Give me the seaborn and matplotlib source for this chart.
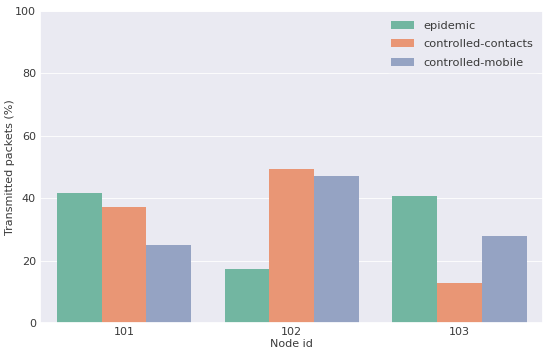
import matplotlib
matplotlib.use("Agg")
import matplotlib.pyplot as plt
import seaborn as sns
import pandas as pd

nodes = ["101", "102", "103"]
epidemic = [41.8, 17.4, 40.7]
controlled_contacts = [37.1, 49.4, 13.0]
controlled_mobile = [24.9, 47.0, 27.9]
series_names = ["epidemic", "controlled-contacts", "controlled-mobile"]

rows = []
for name, vals in zip(series_names, [epidemic, controlled_contacts, controlled_mobile]):
    for n, v in zip(nodes, vals):
        rows.append({"Node id": n, "value": v, "method": name})
df = pd.DataFrame(rows)

sns.set_theme(style="darkgrid", rc={"grid.linewidth": 0.6})
plt.rcParams["font.family"] = ["DejaVu Sans"]
txt = "#3a3a3a"
fig, ax = plt.subplots(figsize=(5.5, 3.54), dpi=100)
sns.barplot(data=df, x="Node id", y="value", hue="method", palette="Set2",
            linewidth=0, ax=ax)
ax.set_ylim(0, 100)
ax.set_ylabel("Transmitted packets (%)", fontsize=8, color=txt, labelpad=0)
ax.set_xlabel("Node id", fontsize=8, color=txt, labelpad=1)
ax.tick_params(labelsize=8, pad=3, colors=txt, length=0)
leg = ax.legend(loc="upper right", fontsize=8.2, frameon=True, borderaxespad=0.5,
                handlelength=2.0, labelspacing=0.72)
leg.set_title(None)
for t in leg.get_texts():
    t.set_color(txt)
leg.get_frame().set_facecolor("#EAEAF2")
leg.get_frame().set_edgecolor("#EAEAF2")
fig.subplots_adjust(left=0.073, right=0.988, top=0.969, bottom=0.087)
fig.savefig("out.png", dpi=100)
